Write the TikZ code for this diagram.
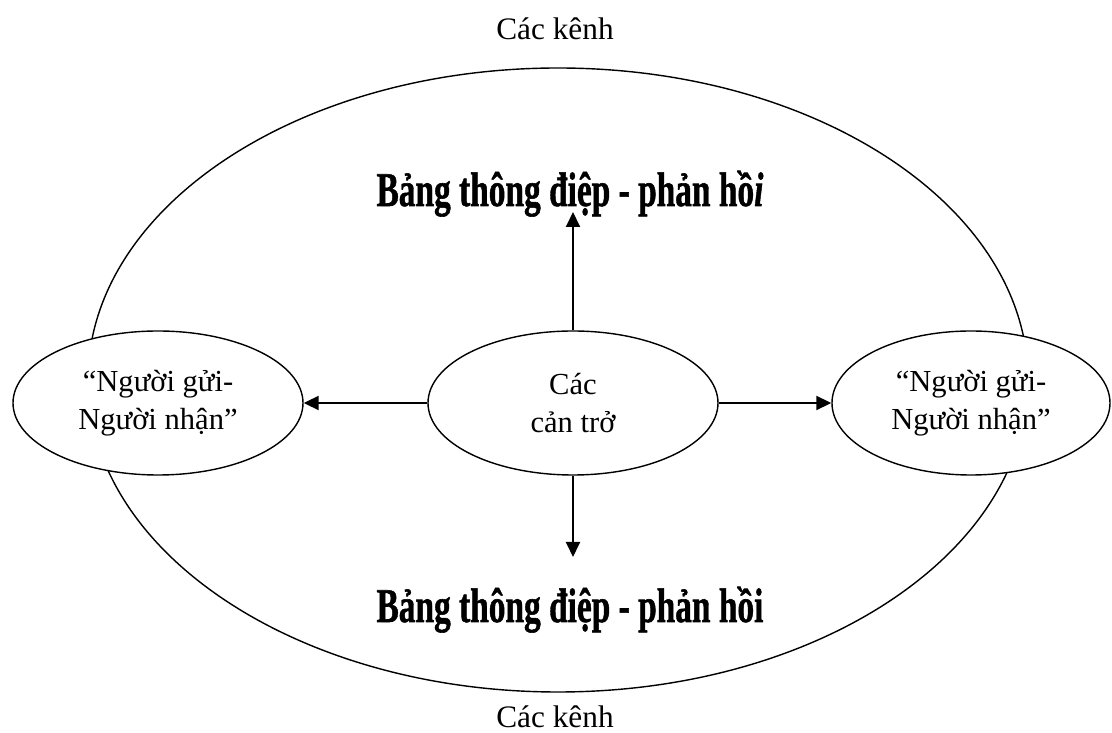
\documentclass[tikz,border=0pt]{standalone}
\usepackage{fontspec}
\setmainfont{Liberation Serif}
\newfontfamily\bangfont{Liberation Serif}[UprightFont={* Bold}, ItalicFont={* Bold Italic}, FakeBold=1.2]
\usetikzlibrary{arrows.meta, shapes.geometric}

\begin{document}
\begin{tikzpicture}[->, >={Triangle[length=0.3cm, width=0.28cm]}, line width=1.1pt,
    main/.style={ellipse, draw, fill=white, line width=0.8pt, inner sep=0pt, align=center,
        minimum width=5.8cm, minimum height=2.88cm, font=\fontsize{17.4}{21.8}\selectfont},
    kenh/.style={anchor=base, inner sep=0pt, font=\fontsize{17.8}{21}\selectfont},
    bang/.style={anchor=base, inner sep=0pt}]

    \useasboundingbox (0,0) rectangle (22.24,14.66);

    % the channel round everything
    \draw[-, line width=0.8pt] (11.16,7.06) ellipse [x radius=9.4, y radius=6.24];

    \node[kenh] (kT) at (11.1,13.86) {Các kênh};
    \node[kenh] (kB) at (11.1,0.1) {Các kênh};

    \node[bang] (bT) at (11.4,10.54) {\scalebox{1}[1.45]{\fontsize{19}{23}\selectfont\bangfont Bảng thông điệp - phản hồ\textit{i}}};
    \node[bang] (bB) at (11.4,2.22) {\scalebox{1}[1.45]{\fontsize{19}{23}\selectfont\bangfont Bảng thông điệp - phản hồi}};

    \node[main] (L) at (3.16,6.6) {“Người gửi-\\Người nhận”};
    \node[main] (M) at (11.46,6.6) {Các\\cản trở};
    \node[main, minimum width=5.56cm] (R) at (19.42,6.6) {“Người gửi-\\Người nhận”};

    \coordinate (up) at (11.46,10.42);
    \coordinate (down) at (11.46,3.52);
\path
        (M) edge (up)
        (M) edge (down)
        (M) edge (L)
        (M) edge (R)
;
\end{tikzpicture}
\end{document}
